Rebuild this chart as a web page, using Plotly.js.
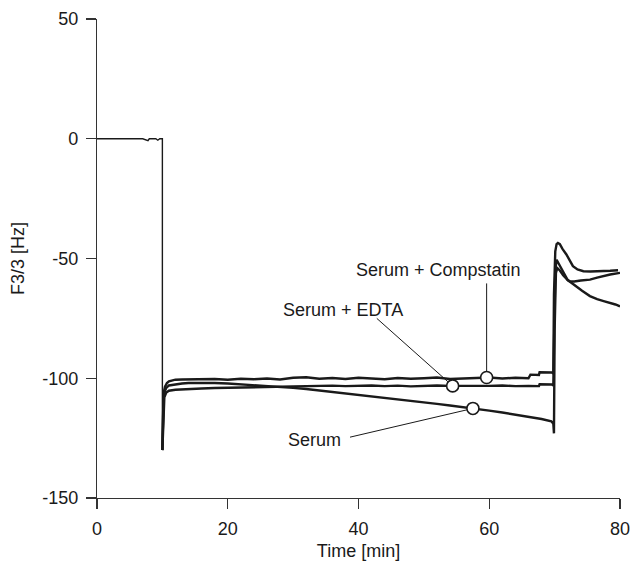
<!DOCTYPE html>
<html>
<head>
<meta charset="utf-8">
<script src="https://cdn.plot.ly/plotly-3.0.1.min.js"></script>
<style>html,body{margin:0;padding:0;background:#fff;}#chart{width:640px;height:562px;}</style>
</head>
<body>
<div id="chart"></div>
<script>
// Pre-injection baseline (shared by all three runs), ending with the injection drop
var baseX = [0, 1, 2, 3, 4, 5, 6, 7, 7.8, 8, 9, 9.3, 9.6, 10, 10];
var baseY = [0, 0, 0, 0, 0, 0, 0, 0, -0.8, 0, 0, -0.6, 0, 0, -130];

// Serum + Compstatin
var compX = [10, 10.1, 10.2, 10.4, 10.7, 11, 11.5, 12, 13, 14, 16, 18, 20, 22, 24, 26, 28, 30, 32, 34, 36, 38, 40, 42, 44, 46, 48, 50, 52, 54, 56, 58, 60, 62, 64, 66, 66.3, 67.6, 67.7, 69.6, 69.8, 69.9, 70.1, 70.3, 70.5, 70.8, 71.2, 71.8, 72.3, 72.8, 73.5, 74.4, 75.5, 76.5, 77.5, 78.5, 79.7];
var compY = [-130, -110, -106, -103.5, -102, -101.3, -100.8, -100.6, -100.5, -100.4, -100.5, -100.3, -100.6, -100.2, -100.4, -100.1, -100.5, -99.8, -99.6, -100.2, -99.9, -100.3, -99.8, -100.1, -100.4, -99.9, -100.2, -100.0, -99.7, -100.3, -100.0, -99.8, -99.7, -100.1, -99.8, -100.0, -98.5, -98.6, -97.5, -97.6, -98, -65, -47, -44, -43.5, -44, -46, -48.3, -50.8, -53.2, -54.6, -55.3, -55.4, -55.2, -55.0, -55.1, -54.9];

// Serum + EDTA
var edtaX = [10, 10.15, 10.3, 10.6, 11, 12, 13, 14, 16, 18, 20, 22, 24, 26, 28, 30, 32, 34, 36, 38, 40, 42, 44, 46, 48, 50, 52, 54, 56, 58, 60, 62, 64, 66, 67.6, 67.7, 69.6, 69.8, 69.9, 70.1, 70.3, 70.6, 71, 71.5, 72, 72.3, 73, 74, 75.4, 76.5, 77.5, 78.5, 80];
var edtaY = [-130, -113, -108, -106, -105.2, -104.8, -104.6, -104.5, -104.3, -104.1, -104.0, -103.8, -103.7, -103.6, -103.4, -103.3, -103.2, -103.4, -103.1, -103.3, -103.2, -103.0, -103.3, -103.1, -103.4, -103.2, -103.0, -103.2, -103.3, -103.1, -103.2, -103.0, -103.3, -103.2, -103.3, -102.5, -102.6, -103, -90, -55, -50.5, -52, -54.5, -57, -59, -59.5, -59.6, -59.2, -58.8, -58, -57.3, -56.7, -56];

// Serum
var serX = [10, 10.15, 10.3, 10.6, 11, 12, 13, 14, 16, 18, 20, 22, 24, 26, 28, 30, 32, 34, 36, 38, 40, 42, 44, 46, 48, 50, 52, 54, 56, 57.5, 60, 62, 64, 66, 68, 69.5, 69.8, 69.9, 70.0, 70.2, 70.4, 70.8, 71.3, 72, 72.7, 73.3, 74.2, 75.4, 76.5, 77.5, 78.5, 79.3, 80];
var serY = [-130, -110, -106, -104, -103, -102.5, -102.2, -102, -101.9, -102, -102.2, -102.5, -102.8, -103.1, -103.5, -104, -104.5, -105.1, -105.7, -106.3, -106.9, -107.5, -108.1, -108.7, -109.4, -110, -110.7, -111.4, -112, -112.6, -113.5, -114.3, -115.2, -116, -117, -118, -119, -123, -80, -56, -54, -55, -57, -59, -60.5, -61.5, -63.5, -65.7, -67, -67.8, -68.5, -69.2, -70];

// Labelled points on each curve
var labelNames = ["Serum + Compstatin", "Serum + EDTA", "Serum"];
var pointX = [59.6, 54.4, 57.5];
var pointY = [-99.7, -103.2, -112.6];

// Label positions
var textX = [52.3, 37.6, 33.2];
var textY = [-55, -71.3, -125.8];
var leaderX = [59.6, 42.8, 38.7];
var leaderY = [-60.4, -75, -124.6];

var xTicks = [0, 20, 40, 60, 80];
var yTicks = [50, 0, -50, -100, -150];

var lineStyle = {color: '#1a1a1a', width: 2.4};
var traces = [
  {x: baseX, y: baseY, mode: 'lines', line: {color: '#1a1a1a', width: 1.4}, name: 'Buffer'},
  {x: compX, y: compY, mode: 'lines', line: lineStyle, name: labelNames[0]},
  {x: edtaX, y: edtaY, mode: 'lines', line: lineStyle, name: labelNames[1]},
  {x: serX, y: serY, mode: 'lines', line: lineStyle, name: labelNames[2]},
  {x: pointX, y: pointY, mode: 'markers', name: 'labels',
   marker: {symbol: 'circle', size: 12, color: '#ffffff', line: {color: '#1a1a1a', width: 1.6}}}
];

var shapes = [], annotations = [];
for (var i = 0; i < labelNames.length; i++) {
  shapes.push({type: 'line', xref: 'x', yref: 'y', x0: leaderX[i], y0: leaderY[i], x1: pointX[i], y1: pointY[i],
               line: {color: '#1a1a1a', width: 1}, layer: 'below'});
  annotations.push({x: textX[i], y: textY[i], xref: 'x', yref: 'y', text: labelNames[i], showarrow: false,
                    font: {family: 'Liberation Sans, Arial, sans-serif', size: 18, color: '#1a1a1a'}});
}

var axisFont = {family: 'Liberation Sans, Arial, sans-serif', size: 18, color: '#1a1a1a'};
var layout = {
  width: 640, height: 562,
  margin: {l: 97, r: 20, t: 19, b: 64},
  paper_bgcolor: '#ffffff', plot_bgcolor: '#ffffff',
  showlegend: false,
  font: axisFont,
  xaxis: {
    range: [0, 80], tickvals: xTicks, ticktext: xTicks.map(String),
    showline: true, linecolor: '#333333', linewidth: 1.2,
    ticks: 'outside', ticklen: 10, tickcolor: '#333333', tickwidth: 1.2,
    showgrid: false, zeroline: false, tickfont: axisFont, ticklabelstandoff: 4,
    title: {text: 'Time [min]', font: axisFont, standoff: 6}
  },
  yaxis: {
    range: [-150, 50], tickvals: yTicks, ticktext: yTicks.map(String),
    showline: true, linecolor: '#333333', linewidth: 1.2,
    ticks: 'outside', ticklen: 10, tickcolor: '#333333', tickwidth: 1.2,
    showgrid: false, zeroline: false, tickfont: axisFont, ticklabelstandoff: 4,
    title: {text: 'F3/3 [Hz]', font: axisFont, standoff: 12}
  },
  shapes: shapes,
  annotations: annotations
};

Plotly.newPlot('chart', traces, layout, {displayModeBar: false, staticPlot: true});
</script>
</body>
</html>
